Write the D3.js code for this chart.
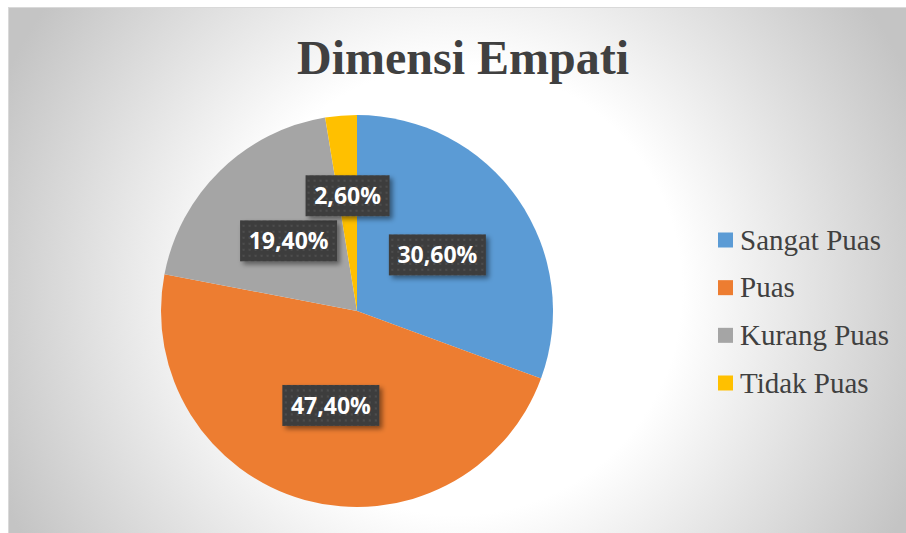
<!DOCTYPE html>
<html>
<head>
<meta charset="utf-8">
<script src="https://cdn.jsdelivr.net/npm/d3@7"></script>
<style>
  html, body { margin: 0; padding: 0; background: #fff; }
  svg { display: block; }
</style>
</head>
<body>
<svg id="chart"></svg>
<script>
const categories = ["Sangat Puas", "Puas", "Kurang Puas", "Tidak Puas"];
const values = [30.6, 47.4, 19.4, 2.6];
const colors = ["#5b9bd5", "#ed7d31", "#a5a5a5", "#ffc000"];
const title = "Dimensi Empati";

const chartObj = { width: 906, height: 533, cx: 357, cy: 311, r: 196 };

const svg = d3.select("#chart")
  .attr("width", chartObj.width)
  .attr("height", chartObj.height);

const defs = svg.append("defs");

const bg = defs.append("radialGradient")
  .attr("id", "bg-grad")
  .attr("gradientUnits", "userSpaceOnUse")
  .attr("cx", 457).attr("cy", 290).attr("r", 500);
bg.append("stop").attr("offset", 0).attr("stop-color", "#ffffff");
bg.append("stop").attr("offset", 0.45).attr("stop-color", "#ffffff");
bg.append("stop").attr("offset", 1).attr("stop-color", "#c4c4c4");

// dotted fill of the label boxes
const pattern = defs.append("pattern")
  .attr("id", "dots")
  .attr("width", 6).attr("height", 6)
  .attr("patternUnits", "userSpaceOnUse");
pattern.append("rect").attr("width", 6).attr("height", 6).attr("fill", "#3e3e3e");
pattern.append("rect").attr("x", 2).attr("y", 2).attr("width", 2).attr("height", 2).attr("fill", "#4d4d4d");

const shadow = defs.append("filter")
  .attr("id", "shadow")
  .attr("x", "-20%").attr("y", "-30%")
  .attr("width", "150%").attr("height", "170%");
shadow.append("feDropShadow")
  .attr("dx", 3).attr("dy", 3)
  .attr("stdDeviation", 2.5)
  .attr("flood-color", "#000")
  .attr("flood-opacity", 0.45);

// chart area
svg.append("rect")
  .attr("x", 8.5).attr("y", 7.5)
  .attr("width", chartObj.width - 8)
  .attr("height", chartObj.height)
  .attr("fill", "url(#bg-grad)")
  .attr("stroke", "#d9d9d9");

svg.append("text")
  .attr("x", 463)
  .attr("y", 74)
  .attr("text-anchor", "middle")
  .attr("font-family", "'Liberation Serif', 'Times New Roman', serif")
  .attr("font-weight", "bold")
  .attr("font-size", 48)
  .attr("fill", "#404040")
  .text(title);

const pie = d3.pie().sort(null).value(d => d);
const arcs = pie(values);

const arc = d3.arc().innerRadius(0).outerRadius(chartObj.r);

const pieGroup = svg.append("g")
  .attr("transform", `translate(${chartObj.cx}, ${chartObj.cy})`);

pieGroup.selectAll("path.slice")
  .data(arcs)
  .enter()
  .append("path")
  .attr("class", "slice")
  .attr("d", arc)
  .attr("fill", (d, i) => colors[i]);

const fmt = v => v.toFixed(2).replace(".", ",") + "%";

// small slices get their label pushed a bit further out
const labelArc = d => {
  const k = d.value < 5 ? 0.59 : 0.5;
  return d3.arc().innerRadius(chartObj.r * k).outerRadius(chartObj.r * k).centroid(d);
};

const labels = pieGroup.selectAll("g.label")
  .data(arcs)
  .enter()
  .append("g")
  .attr("class", "label")
  .attr("transform", d => `translate(${labelArc(d)})`);

labels.each(function (d) {
  const g = d3.select(this);
  const txt = fmt(d.value);
  const w = txt.length === 6 ? 97 : 84;
  g.append("rect")
    .attr("x", -w / 2).attr("y", -20.5)
    .attr("width", w).attr("height", 41)
    .attr("fill", "url(#dots)")
    .attr("filter", "url(#shadow)");
  g.append("text")
    .attr("text-anchor", "middle")
    .attr("dy", "0.36em")
    .attr("font-family", "'Open Sans', sans-serif")
    .attr("font-weight", "bold")
    .attr("font-size", 23)
    .attr("fill", "#ffffff")
    .text(txt);
});

// legend
const legendY = d3.scalePoint()
  .domain(categories)
  .range([240, 383]);

const legend = svg.append("g").attr("class", "legend");

const item = legend.selectAll("g")
  .data(categories)
  .enter()
  .append("g")
  .attr("transform", d => `translate(718, ${legendY(d)})`);

item.append("rect")
  .attr("x", 0).attr("y", -7.5)
  .attr("width", 15).attr("height", 15)
  .attr("fill", (d, i) => colors[i]);

item.append("text")
  .attr("x", 22)
  .attr("y", 9.5)
  .attr("font-family", "'Liberation Serif', 'Times New Roman', serif")
  .attr("font-size", 29)
  .attr("fill", "#404040")
  .text(d => d);
</script>
</body>
</html>
